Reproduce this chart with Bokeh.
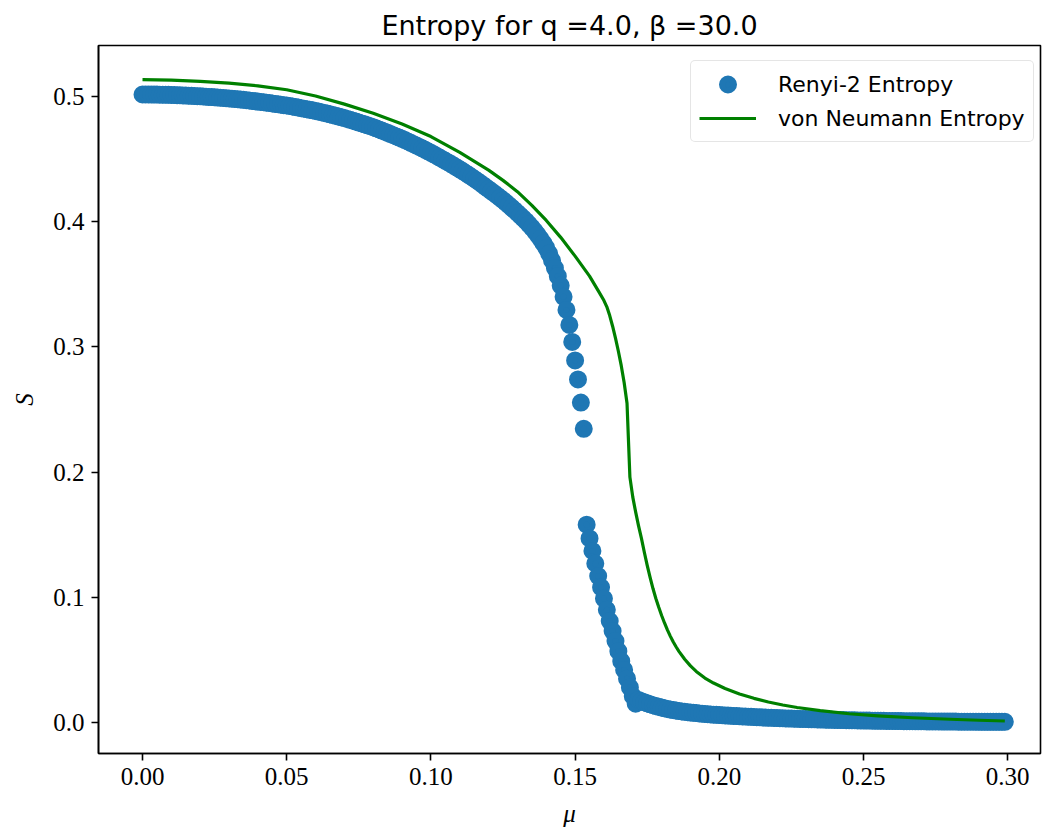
from bokeh.plotting import figure
from bokeh.models import Range1d, FixedTicker, Legend, LegendItem
from bokeh.embed import file_html
from bokeh.resources import INLINE

# chemical potential grid for the Renyi-2 samples (step 0.001)
mu = [round(i * 0.001, 3) for i in range(300)]

renyi2 = [
    0.5016, 0.5016, 0.5016, 0.5015, 0.5015, 0.5015, 0.5014, 0.5014, 0.5013, 0.5013,
    0.5012, 0.5011, 0.5010, 0.5009, 0.5008, 0.5007, 0.5006, 0.5005, 0.5003, 0.5002,
    0.5001, 0.5000, 0.4998, 0.4996, 0.4995, 0.4993, 0.4991, 0.4990, 0.4988, 0.4986,
    0.4984, 0.4982, 0.4980, 0.4978, 0.4975, 0.4973, 0.4970, 0.4968, 0.4965, 0.4963,
    0.4960, 0.4957, 0.4954, 0.4951, 0.4948, 0.4945, 0.4941, 0.4938, 0.4935, 0.4931,
    0.4928, 0.4924, 0.4920, 0.4916, 0.4912, 0.4907, 0.4903, 0.4899, 0.4894, 0.4890,
    0.4885, 0.4880, 0.4875, 0.4869, 0.4864, 0.4858, 0.4852, 0.4846, 0.4840, 0.4834,
    0.4828, 0.4821, 0.4814, 0.4807, 0.4800, 0.4792, 0.4785, 0.4778, 0.4770, 0.4763,
    0.4755, 0.4746, 0.4737, 0.4728, 0.4719, 0.4710, 0.4700, 0.4691, 0.4681, 0.4672,
    0.4662, 0.4652, 0.4641, 0.4630, 0.4619, 0.4608, 0.4597, 0.4586, 0.4574, 0.4562,
    0.4550, 0.4538, 0.4525, 0.4512, 0.4499, 0.4486, 0.4473, 0.4460, 0.4446, 0.4432,
    0.4418, 0.4404, 0.4389, 0.4374, 0.4359, 0.4343, 0.4327, 0.4311, 0.4294, 0.4277,
    0.4260, 0.4243, 0.4226, 0.4208, 0.4190, 0.4172, 0.4153, 0.4133, 0.4113, 0.4092,
    0.4070, 0.4049, 0.4027, 0.4004, 0.3979, 0.3953, 0.3925, 0.3895, 0.3863, 0.3828,
    0.3790, 0.3745, 0.3690, 0.3630, 0.3565, 0.3490, 0.3400, 0.3295, 0.3175, 0.3040,
    0.2892, 0.2740, 0.2555, 0.2346, 0.1580, 0.1470, 0.1370, 0.1270, 0.1170, 0.1080,
    0.0990, 0.0900, 0.0810, 0.0730, 0.0650, 0.0570, 0.0490, 0.0420, 0.0350, 0.0280,
    0.0210, 0.0150, 0.0180, 0.0170, 0.0161, 0.0153, 0.0145, 0.0138, 0.0131, 0.0125,
    0.0119, 0.0113, 0.0108, 0.0103, 0.0099, 0.0095, 0.0091, 0.0088, 0.0085, 0.0082,
    0.0079, 0.0077, 0.0075, 0.0072, 0.0070, 0.0068, 0.0066, 0.0064, 0.0062, 0.0061,
    0.0059, 0.0058, 0.0056, 0.0055, 0.0053, 0.0052, 0.0051, 0.0049, 0.0048, 0.0047,
    0.0046, 0.0045, 0.0043, 0.0042, 0.0041, 0.0040, 0.0039, 0.0038, 0.0037, 0.0036,
    0.0035, 0.0034, 0.0033, 0.0032, 0.0031, 0.0031, 0.0030, 0.0029, 0.0028, 0.0028,
    0.0027, 0.0026, 0.0025, 0.0025, 0.0024, 0.0023, 0.0023, 0.0022, 0.0021, 0.0021,
    0.0020, 0.0020, 0.0019, 0.0019, 0.0018, 0.0018, 0.0017, 0.0017, 0.0016, 0.0016,
    0.0015, 0.0015, 0.0015, 0.0014, 0.0014, 0.0013, 0.0013, 0.0013, 0.0012, 0.0012,
    0.0012, 0.0011, 0.0011, 0.0011, 0.0010, 0.0010, 0.0010, 0.0010, 0.0009, 0.0009,
    0.0009, 0.0009, 0.0008, 0.0008, 0.0008, 0.0008, 0.0008, 0.0007, 0.0007, 0.0007,
    0.0007, 0.0007, 0.0007, 0.0006, 0.0006, 0.0006, 0.0006, 0.0006, 0.0006, 0.0006,
    0.0005, 0.0005, 0.0005, 0.0005, 0.0005, 0.0005, 0.0005, 0.0005, 0.0005, 0.0005,
]

mu_vn = [
    0.000, 0.010, 0.020, 0.030, 0.040, 0.050, 0.060, 0.070, 0.080, 0.090,
    0.100, 0.110, 0.120, 0.125, 0.130, 0.135, 0.140, 0.145, 0.150, 0.155,
    0.158, 0.160, 0.161, 0.162, 0.163, 0.164, 0.165, 0.166, 0.167, 0.168,
    0.169, 0.170, 0.171, 0.172, 0.173, 0.174, 0.175, 0.176, 0.177, 0.178,
    0.179, 0.180, 0.181, 0.182, 0.183, 0.184, 0.185, 0.186, 0.188, 0.190,
    0.192, 0.195, 0.198, 0.202, 0.207, 0.212, 0.217, 0.222, 0.227, 0.235,
    0.245, 0.255, 0.267, 0.280, 0.290, 0.299,
]
von_neumann = [
    0.5134, 0.5130, 0.5121, 0.5107, 0.5085, 0.5054, 0.5004, 0.4939, 0.4866, 0.4780,
    0.4680, 0.4553, 0.4412, 0.4330, 0.4240, 0.4130, 0.4010, 0.3875, 0.3725, 0.3565,
    0.3450, 0.3370, 0.3320, 0.3250, 0.3165, 0.3070, 0.2965, 0.2850, 0.2715, 0.2550,
    0.1960, 0.1800, 0.1680, 0.1570, 0.1470, 0.1360, 0.1255, 0.1160, 0.1070, 0.0990,
    0.0920, 0.0855, 0.0795, 0.0740, 0.0690, 0.0645, 0.0605, 0.0568, 0.0505, 0.0452,
    0.0408, 0.0355, 0.0315, 0.0272, 0.0228, 0.0193, 0.0164, 0.0140, 0.0120, 0.0095,
    0.0070, 0.0053, 0.0038, 0.0026, 0.0018, 0.0012,
]

x_ticks = [0.00, 0.05, 0.10, 0.15, 0.20, 0.25, 0.30]
x_tick_labels = ["0.00", "0.05", "0.10", "0.15", "0.20", "0.25", "0.30"]
y_ticks = [0.0, 0.1, 0.2, 0.3, 0.4, 0.5]
y_tick_labels = ["0.0", "0.1", "0.2", "0.3", "0.4", "0.5"]

SERIF = "Liberation Serif"
SANS = "DejaVu Sans"

p = figure(
    width=1042, height=836,
    output_backend="svg", toolbar_location=None,
    x_range=Range1d(-0.01526, 0.31137),
    y_range=Range1d(-0.02476, 0.54073),
    min_border_left=98, min_border_right=2,
    min_border_top=45, min_border_bottom=83,
    title="Entropy for q =4.0, β =30.0",
)
p.background_fill_color = "white"
p.border_fill_color = "white"
p.outline_line_color = "black"
p.outline_line_width = 1.6
p.xgrid.visible = False
p.ygrid.visible = False

p.title.align = "center"
p.title.text_font = SANS
p.title.text_font_size = "27px"
p.title.text_font_style = "normal"
p.title.text_color = "black"

for ax in (p.xaxis[0], p.yaxis[0]):
    ax.axis_line_color = "black"
    ax.axis_line_width = 1.6
    ax.major_tick_line_color = "black"
    ax.major_tick_line_width = 1.6
    ax.major_tick_out = 7
    ax.major_tick_in = 0
    ax.minor_tick_line_color = None
    ax.major_label_text_font = SERIF
    ax.major_label_text_font_size = "25px"
    ax.major_label_text_color = "black"
    ax.major_label_standoff = 7
    ax.axis_label_text_font = SERIF
    ax.axis_label_text_font_style = "italic"
    ax.axis_label_text_font_size = "25px"
    ax.axis_label_text_color = "black"

p.xaxis.ticker = FixedTicker(ticks=x_ticks)
p.xaxis.major_label_overrides = dict(zip(x_ticks, x_tick_labels))
p.yaxis.ticker = FixedTicker(ticks=y_ticks)
p.yaxis.major_label_overrides = dict(zip(y_ticks, y_tick_labels))
p.xaxis.axis_label = "μ"
p.yaxis.axis_label = "S"
p.xaxis.axis_label_standoff = 12
p.yaxis.axis_label_standoff = 12

# the stroke widens each dot to an 18 px disc and keeps the legend swatch large
dots = p.scatter(mu, renyi2, size=12, marker="circle",
                 fill_color="#1f77b4", line_color="#1f77b4", line_width=6)
curve = p.line(mu_vn, von_neumann, line_color="green", line_width=3.2,
               line_join="round")

legend = Legend(
    items=[
        LegendItem(label="Renyi-2 Entropy", renderers=[dots]),
        LegendItem(label="von Neumann Entropy", renderers=[curve]),
    ],
    location=(592, 611),
    label_text_font=SANS,
    label_text_font_size="22px",
    label_text_color="black",
    label_standoff=22,
    label_height=26,
    glyph_height=30,
    glyph_width=57,
    spacing=4,
    padding=8,
    margin=0,
    border_line_color="#cccccc",
    border_line_width=1.5,
    border_radius=5,
    background_fill_color="white",
    background_fill_alpha=0.8,
)
p.add_layout(legend, "center")

open("out.html", "w").write(file_html(p, INLINE))
